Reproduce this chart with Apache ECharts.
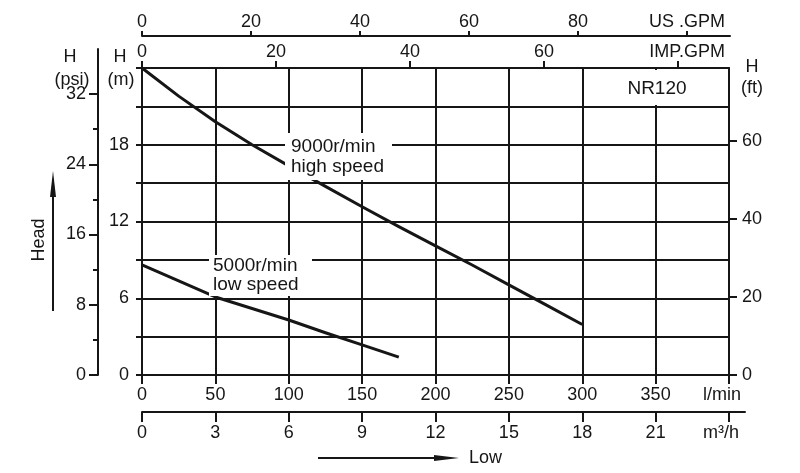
<!DOCTYPE html>
<html><head><meta charset="utf-8">
<script src="https://cdn.jsdelivr.net/npm/echarts@6/dist/echarts.min.js"></script>
<style>html,body{margin:0;padding:0;background:#fff}#c{width:800px;height:473px}</style>
</head><body><div id="c"></div>
<script>
// ---- data ----
const highSpeedFlow = [0, 25, 50, 75, 100, 125, 150, 175, 200, 225, 250, 275, 300];      // l/min
const highSpeedHead = [24.0, 21.8, 19.8, 18.0, 16.35, 14.75, 13.15, 11.6, 10.1, 8.6, 7.05, 5.5, 3.95]; // m
const lowSpeedFlow = [0, 25, 50, 75, 100, 125, 150, 175];
const lowSpeedHead = [8.6, 7.35, 6.1, 5.2, 4.3, 3.3, 2.35, 1.4];
const headMLabels = [0, 6, 12, 18];
const headFtTicks = [0, 20, 40, 60];
const headPsiMajor = [0, 8, 16, 24, 32];
const headPsiMinor = [4, 12, 20, 28];
const m3hTicks = [0, 3, 6, 9, 12, 15, 18, 21, 24];
const usGpmTicks = [0, 20, 40, 60, 80, 100];
const impGpmTicks = [0, 20, 40, 60, 80];

const C = '#161616';
const FONT = '"Liberation Sans", Arial, sans-serif';
const lbl = (extra) => Object.assign({color: C, fontSize: 18, fontFamily: FONT}, extra || {});
const line = {show: true, onZero: false, lineStyle: {color: C, width: 2}};
const tickStyle = {color: C, width: 2};

const chart = echarts.init(document.getElementById('c'), null, {renderer: 'canvas'});
chart.setOption({
  animation: false,
  backgroundColor: '#fff',
  grid: [
    {left: 142, top: 68, width: 587, height: 307},   // main plot
    {left: 98, top: 49, width: 10, height: 326},     // psi axis
    {left: 142, top: 400, width: 603, height: 12},   // m3/h axis
    {left: 142, top: 36, width: 588, height: 10}     // US GPM axis
  ],
  xAxis: [
    { // l/min
      type: 'value', gridIndex: 0, position: 'bottom', min: 0, max: 400, interval: 50,
      axisLine: line,
      axisTick: {show: true, inside: false, length: 9, lineStyle: tickStyle},
      splitLine: {show: true, lineStyle: {color: C, width: 2}},
      axisLabel: lbl({margin: 11, formatter: v => v === 400 ? '{u|l/min}' : String(v),
        rich: {u: {color: C, fontSize: 18, fontFamily: FONT, padding: [0, 14, 0, 0]}}})
    },
    { // IMP GPM
      type: 'value', gridIndex: 0, position: 'top', min: 0, max: 87.6,
      axisLine: line,
      axisTick: {show: true, length: 7, lineStyle: tickStyle, customValues: impGpmTicks},
      splitLine: {show: false},
      axisLabel: lbl({margin: 7, customValues: impGpmTicks,
        formatter: v => v === 80 ? '{u|IMP.GPM}' : String(v),
        rich: {u: {color: C, fontSize: 18, fontFamily: FONT, padding: [0, 0, 0, 18]}}})
    },
    { // m3/h
      type: 'value', gridIndex: 2, position: 'bottom', min: 0, max: 24.654,
      axisLine: line,
      axisTick: {show: true, length: 10, lineStyle: tickStyle, customValues: m3hTicks},
      splitLine: {show: false},
      axisLabel: lbl({margin: 12, customValues: m3hTicks,
        formatter: v => v === 24 ? '{u|m³/h}' : String(v),
        rich: {u: {color: C, fontSize: 18, fontFamily: FONT, padding: [0, 16, 0, 0]}}})
    },
    { // US GPM
      type: 'value', gridIndex: 3, position: 'top', min: 0, max: 107.9,
      axisLine: line,
      axisTick: {show: true, length: 5, lineStyle: tickStyle, customValues: usGpmTicks},
      splitLine: {show: false},
      axisLabel: lbl({margin: 5, customValues: usGpmTicks,
        formatter: v => v === 100 ? 'US .GPM' : String(v)})
    },
    {type: 'value', gridIndex: 1, show: false, min: 0, max: 1}
  ],
  yAxis: [
    { // m
      type: 'value', gridIndex: 0, position: 'left', min: 0, max: 24, interval: 3,
      axisLine: line,
      axisTick: {show: true, length: 6, lineStyle: tickStyle},
      splitLine: {show: true, lineStyle: {color: C, width: 2}},
      axisLabel: lbl({margin: 13, customValues: headMLabels})
    },
    { // ft
      type: 'value', gridIndex: 0, position: 'right', min: 0, max: 78.74,
      axisLine: line,
      axisTick: {show: true, length: 8, lineStyle: tickStyle, customValues: headFtTicks},
      splitLine: {show: false},
      axisLabel: lbl({margin: 13, customValues: headFtTicks})
    },
    { // psi major
      type: 'value', gridIndex: 1, position: 'left', min: 0, max: 37.13,
      axisLine: line,
      axisTick: {show: true, length: 9, lineStyle: tickStyle, customValues: headPsiMajor},
      splitLine: {show: false},
      axisLabel: lbl({margin: 12, customValues: headPsiMajor})
    },
    { // psi minor
      type: 'value', gridIndex: 1, position: 'left', min: 0, max: 37.13,
      axisLine: {show: false},
      axisTick: {show: true, length: 5, lineStyle: tickStyle, customValues: headPsiMinor},
      splitLine: {show: false},
      axisLabel: {show: false}
    },
    {type: 'value', gridIndex: 2, show: false, min: 0, max: 1},
    {type: 'value', gridIndex: 3, show: false, min: 0, max: 1}
  ],
  series: [
    {
      name: '9000r/min high speed', type: 'line', xAxisIndex: 0, yAxisIndex: 0,
      data: highSpeedFlow.map((f, i) => [f, highSpeedHead[i]]),
      smooth: false, showSymbol: false, lineStyle: {color: C, width: 3, join: 'round'}, z: 5
    },
    {
      name: '5000r/min low speed', type: 'line', xAxisIndex: 0, yAxisIndex: 0,
      data: lowSpeedFlow.map((f, i) => [f, lowSpeedHead[i]]),
      smooth: false, showSymbol: false, lineStyle: {color: C, width: 3, join: 'round'}, z: 5
    }
  ],
  graphic: [
    // NR120 box (hides one grid line in top row)
    {type: 'rect', z: 50, shape: {x: 584, y: 70, width: 143, height: 35}, style: {fill: '#fff'}},
    {type: 'text', z: 51, style: {text: 'NR120', x: 657, y: 89, font: '19px ' + FONT, fill: C, align: 'center', verticalAlign: 'middle'}},
    // curve labels
    {type: 'rect', z: 50, shape: {x: 285, y: 133, width: 107, height: 47}, style: {fill: '#fff'}},
    {type: 'text', z: 51, style: {text: '9000r/min\nhigh speed', x: 291, y: 157, font: '19px ' + FONT, lineHeight: 20, fill: C, align: 'left', verticalAlign: 'middle'}},
    {type: 'rect', z: 50, shape: {x: 209, y: 255, width: 103, height: 41}, style: {fill: '#fff'}},
    {type: 'text', z: 51, style: {text: '5000r/min\nlow speed', x: 213, y: 275, font: '19px ' + FONT, lineHeight: 19, fill: C, align: 'left', verticalAlign: 'middle'}},
    // axis titles
    {type: 'text', z: 51, style: {text: 'H', x: 70, y: 57, font: '18px ' + FONT, fill: C, align: 'center', verticalAlign: 'middle'}},
    {type: 'text', z: 51, style: {text: '(psi)', x: 72, y: 80, font: '18px ' + FONT, fill: C, align: 'center', verticalAlign: 'middle'}},
    {type: 'text', z: 51, style: {text: 'H', x: 120, y: 57, font: '18px ' + FONT, fill: C, align: 'center', verticalAlign: 'middle'}},
    {type: 'text', z: 51, style: {text: '(m)', x: 121, y: 80, font: '18px ' + FONT, fill: C, align: 'center', verticalAlign: 'middle'}},
    {type: 'text', z: 51, style: {text: 'H', x: 752, y: 67, font: '18px ' + FONT, fill: C, align: 'center', verticalAlign: 'middle'}},
    {type: 'text', z: 51, style: {text: '(ft)', x: 752, y: 88, font: '18px ' + FONT, fill: C, align: 'center', verticalAlign: 'middle'}},
    // Head arrow
    {type: 'text', z: 51, x: 39, y: 240, rotation: Math.PI / 2, style: {text: 'Head', x: 0, y: 0, font: '18px ' + FONT, fill: C, align: 'center', verticalAlign: 'middle'}},
    {type: 'line', z: 51, shape: {x1: 53, y1: 311, x2: 53, y2: 190}, style: {stroke: C, lineWidth: 2}},
    {type: 'polygon', z: 51, shape: {points: [[53, 171], [50, 197], [56, 197]]}, style: {fill: C}},
    // Low arrow
    {type: 'line', z: 51, shape: {x1: 318, y1: 458, x2: 440, y2: 458}, style: {stroke: C, lineWidth: 2}},
    {type: 'polygon', z: 51, shape: {points: [[459, 458], [434, 455], [434, 461]]}, style: {fill: C}},
    {type: 'text', z: 51, style: {text: 'Low', x: 469, y: 458, font: '18px ' + FONT, fill: C, align: 'left', verticalAlign: 'middle'}}
  ]
});
</script>
</body></html>
